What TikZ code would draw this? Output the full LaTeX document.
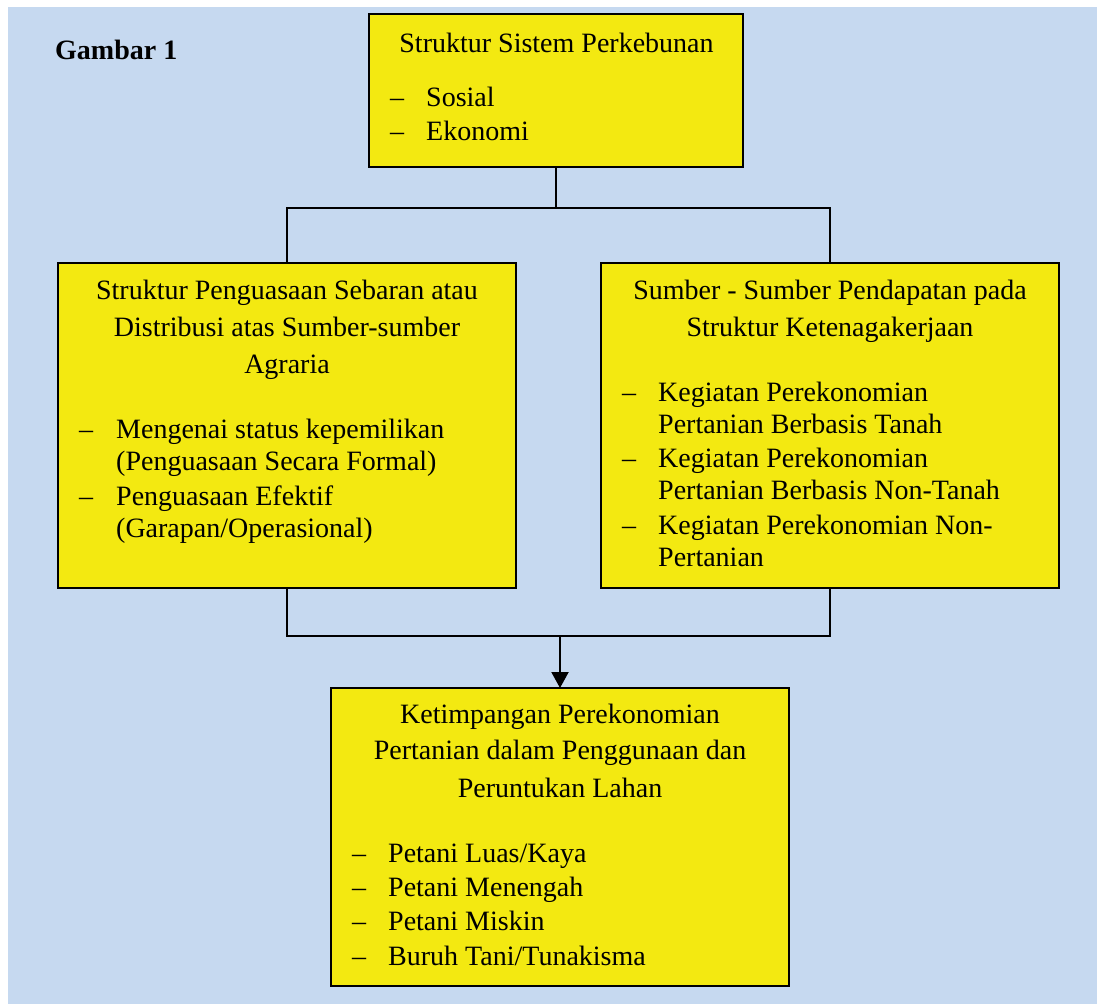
\documentclass[tikz,border=0pt]{standalone}
\usepackage{fontspec}
\setmainfont{Liberation Serif}
\usetikzlibrary{arrows.meta}
\definecolor{bgblue}{RGB}{198,217,240}
\definecolor{boxyellow}{RGB}{243,233,17}
\begin{document}
\begin{tikzpicture}[x=1pt,y=-1pt,
  box/.style={draw=black, line width=2pt, fill=boxyellow, inner sep=0pt, outer sep=0pt, anchor=north west},
  txt/.style={font=\fontsize{28}{33}\selectfont, inner sep=0pt, anchor=base},
  ltxt/.style={txt, anchor=base west},
  thinlink/.style={draw=black, line width=1.3pt},
  thicklink/.style={draw=black, line width=2pt}]
\useasboundingbox (0,0) rectangle (1097,1004);
\fill[bgblue] (8,7) rectangle (1097,1004);

% boxes
\node[box, minimum width=374pt, minimum height=153pt] (top) at (369,14) {};
\node[box, minimum width=458pt, minimum height=325pt] (left) at (58,263) {};
\node[box, minimum width=458pt, minimum height=325pt] (right) at (601,263) {};
\node[box, minimum width=458pt, minimum height=298pt] (bot) at (331,688) {};

% connectors
\coordinate (j1) at (556,208);
\coordinate (j2) at (560,636);
\draw[thinlink] (top.south) -- (top.south |- j1);
\draw[thinlink] (left.north) |- (top.south |- j1) -| (right.north);
\draw[thicklink] (left.south) |- (bot.north |- j2) -| (right.south);
\draw[thicklink, -{Triangle[width=17pt,length=16pt]}] (bot.north |- j2) -- (bot.north);

% title
\node[ltxt, font=\fontsize{28}{33}\selectfont\bfseries] (gambar) at (55,59) {Gambar 1};

% top box text
\node[txt] (t0) at (556.5,52) {Struktur Sistem Perkebunan};
\node[ltxt] (td1) at (390,106) {–};
\node[ltxt] (ti1) at (426,106) {Sosial};
\node[ltxt] (td2) at (390,140) {–};
\node[ltxt] (ti2) at (426,140) {Ekonomi};

% left box text
\node[txt] (l0) at (287,299) {Struktur Penguasaan Sebaran atau};
\node[txt] (l1) at (287,336) {Distribusi atas Sumber-sumber};
\node[txt] (l2) at (287,373) {Agraria};
\node[ltxt] (ld1) at (79,438) {–};
\node[ltxt] (li1) at (116,438) {Mengenai status kepemilikan};
\node[ltxt] (li1b) at (116,470) {(Penguasaan Secara Formal)};
\node[ltxt] (ld2) at (79,505) {–};
\node[ltxt] (li2) at (116,505) {Penguasaan Efektif};
\node[ltxt] (li2b) at (116,537) {(Garapan/Operasional)};

% right box text
\node[txt] (r0) at (830,299) {Sumber - Sumber Pendapatan pada};
\node[txt] (r1) at (830,336) {Struktur Ketenagakerjaan};
\node[ltxt] (rd1) at (622,401) {–};
\node[ltxt] (ri1) at (658,401) {Kegiatan Perekonomian};
\node[ltxt] (ri1b) at (658,433) {Pertanian Berbasis Tanah};
\node[ltxt] (rd2) at (622,467) {–};
\node[ltxt] (ri2) at (658,467) {Kegiatan Perekonomian};
\node[ltxt] (ri2b) at (658,499) {Pertanian Berbasis Non-Tanah};
\node[ltxt] (rd3) at (622,534) {–};
\node[ltxt] (ri3) at (658,534) {Kegiatan Perekonomian Non-};
\node[ltxt] (ri3b) at (658,566) {Pertanian};

% bottom box text
\node[txt] (b0) at (560,723) {Ketimpangan Perekonomian};
\node[txt] (b1) at (560,759) {Pertanian dalam Penggunaan dan};
\node[txt] (b2) at (560,797) {Peruntukan Lahan};
\node[ltxt] (bd1) at (352,862) {–};
\node[ltxt] (bi1) at (388,862) {Petani Luas/Kaya};
\node[ltxt] (bd2) at (352,896) {–};
\node[ltxt] (bi2) at (388,896) {Petani Menengah};
\node[ltxt] (bd3) at (352,930) {–};
\node[ltxt] (bi3) at (388,930) {Petani Miskin};
\node[ltxt] (bd4) at (352,965) {–};
\node[ltxt] (bi4) at (388,965) {Buruh Tani/Tunakisma};
\end{tikzpicture}
\end{document}
